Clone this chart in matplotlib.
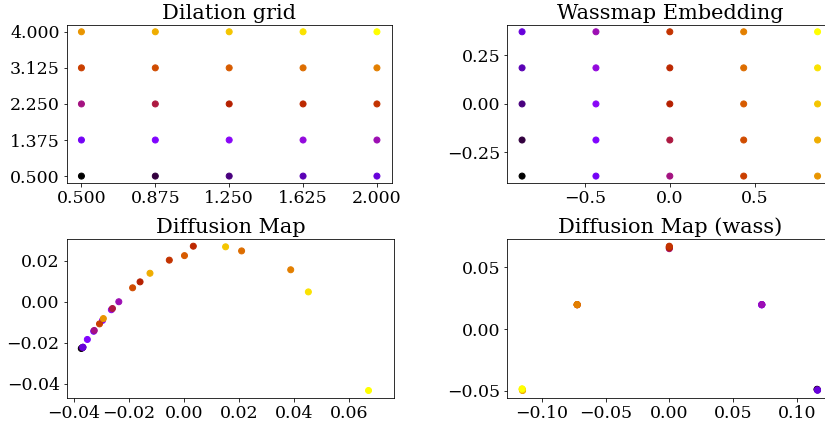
import numpy as np
import matplotlib
matplotlib.use("Agg")
import matplotlib.pyplot as plt

plt.rcParams["font.family"] = "DejaVu Serif"
plt.rcParams["font.size"] = 17.4

# dilation parameters (5x5 grid), point index = 5*row + col
grid_x = [0.5, 0.875, 1.25, 1.625, 2.0]
grid_y = [0.5, 1.375, 2.25, 3.125, 4.0]

# wassmap embedding coordinates (x follows grid row, y follows grid column)
wass_x = [-0.868, -0.434, 0.0, 0.434, 0.868]
wass_y = [-0.372, -0.186, 0.0, 0.186, 0.372]

# diffusion map (euclidean), one value per point in index order
diff_x = [-0.0372, -0.0369, -0.0367, -0.0366, -0.0366,
          -0.0327, -0.0350, -0.0295, -0.0263, -0.0236,
          -0.0325, -0.0259, -0.0159, 0.0034, -0.0053,
          -0.0306, -0.0186, 0.0002, 0.0209, 0.0387,
          -0.0292, -0.0123, 0.0151, 0.0451, 0.0669]
diff_y = [-0.0229, -0.0226, -0.0224, -0.0223, -0.0223,
          -0.0145, -0.0185, -0.0092, -0.0040, -0.0001,
          -0.0141, -0.0034, 0.0096, 0.0270, 0.0202,
          -0.0109, 0.0067, 0.0224, 0.0247, 0.0155,
          -0.0083, 0.0138, 0.0267, 0.0047, -0.0434]
diff_xlim = (-0.0425, 0.0762)

# diffusion map on wasserstein distances
dw_x = [0.1160, 0.1161, 0.1162, 0.1163, 0.1164,
        0.0725, 0.0726, 0.0726, 0.0726, 0.0727,
        0.0000, 0.0000, 0.0000, 0.0000, 0.0000,
        -0.0723, -0.0723, -0.0723, -0.0724, -0.0724,
        -0.1152, -0.1153, -0.1154, -0.1155, -0.1156]
dw_y = [-0.0486, -0.0488, -0.0490, -0.0492, -0.0494,
        0.0195, 0.0196, 0.0196, 0.0197, 0.0197,
        0.0648, 0.0653, 0.0658, 0.0663, 0.0668,
        0.0195, 0.0196, 0.0196, 0.0197, 0.0197,
        -0.0496, -0.0493, -0.0490, -0.0486, -0.0482]

idx = np.arange(25)
gx, gy = np.meshgrid(grid_x, grid_y)
wy, wx = np.meshgrid(wass_y, wass_x)

fig = plt.figure(figsize=(825 / 72, 425 / 72), dpi=72)
w, h = 0.394, 0.3735
ax1 = fig.add_axes([0.0808, 0.5687, w, h])
ax2 = fig.add_axes([0.6149, 0.5687, w, h])
ax3 = fig.add_axes([0.0808, 0.0642, 0.397, h])
ax4 = fig.add_axes([0.6149, 0.0642, w, h])

kw = dict(c=idx, cmap="gnuplot", vmin=0, vmax=24)

ax1.scatter(gx.ravel(), gy.ravel(), **kw)
ax1.set_xticks(grid_x)
ax1.set_yticks(grid_y)
ax1.set_xticklabels([f"{v:.3f}" for v in grid_x])
ax1.set_yticklabels([f"{v:.3f}" for v in grid_y])
ax1.set_title("Dilation grid")

ax2.scatter(wx.ravel(), wy.ravel(), **kw)
ax2.set_title("Wassmap Embedding")

ax3.scatter(diff_x, diff_y, **kw)
ax3.set_xlim(*diff_xlim)
ax3.set_title("Diffusion Map")

ax4.scatter(dw_x, dw_y, **kw)
ax4.set_title("Diffusion Map (wass)")

plt.savefig("out.png", dpi=72)
